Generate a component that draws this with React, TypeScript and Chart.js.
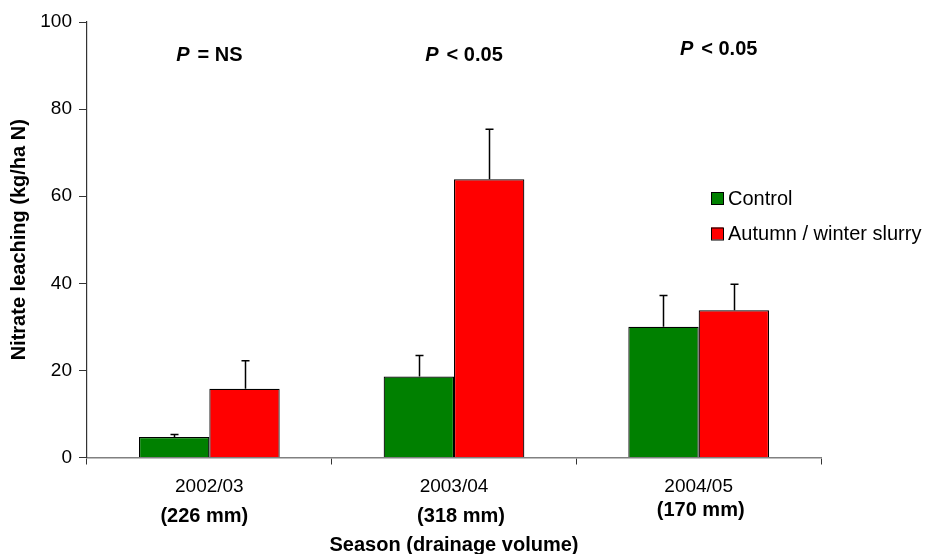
import React, { useEffect, useRef } from "react";
import { Chart, registerables } from "chart.js";

Chart.register(...registerables);

const seasons = ["2002/03", "2003/04", "2004/05"];
const drainage = ["(226 mm)", "(318 mm)", "(170 mm)"];
const significance = ["= NS", "< 0.05", "< 0.05"];
const seriesNames = ["Control", "Autumn / winter slurry"];
const controlValues = [4.7, 18.6, 30.0];
const controlErrors = [0.6, 4.8, 7.2];
const slurryValues = [15.8, 63.9, 33.8];
const slurryErrors = [6.4, 11.5, 6.0];
const yTicks = [0, 20, 40, 60, 80, 100];

const FONT = "'Liberation Sans', Arial, Helvetica, sans-serif";
const GREEN = "#008000";
const RED = "#FF0000";

const errors = [controlErrors, slurryErrors];

const annotations = {
  id: "annotations",
  afterDatasetsDraw(chart: any) {
    const ctx = chart.ctx;
    const ys = chart.scales.y;
    ctx.save();
    ctx.strokeStyle = "#000";
    ctx.lineWidth = 1.5;
    chart.data.datasets.forEach((ds: any, di: number) => {
      const meta = chart.getDatasetMeta(di);
      meta.data.forEach((bar: any, i: number) => {
        const v = ds.data[i];
        const top = ys.getPixelForValue(v + errors[di][i]);
        const x = Math.round(bar.x) + 0.5;
        ctx.beginPath();
        ctx.moveTo(x, bar.y);
        ctx.lineTo(x, top);
        ctx.moveTo(x - 4, top);
        ctx.lineTo(x + 4, top);
        ctx.stroke();
      });
    });
    ctx.restore();
  },
  afterDraw(chart: any) {
    const ctx = chart.ctx;
    const xs = chart.scales.x;
    ctx.save();
    ctx.fillStyle = "#000";
    ctx.textBaseline = "middle";

    // significance labels
    const pDx = [0, 10, 20];
    const pY = [55, 55, 49.5];
    const gap = 8;
    seasons.forEach((_, i) => {
      const cx = xs.getPixelForValue(i) + pDx[i];
      ctx.font = `italic bold 20px ${FONT}`;
      const wP = ctx.measureText("P").width;
      ctx.font = `bold 20px ${FONT}`;
      const rest = significance[i];
      const wR = ctx.measureText(rest).width;
      const x0 = cx - (wP + gap + wR) / 2;
      ctx.textAlign = "left";
      ctx.font = `italic bold 20px ${FONT}`;
      ctx.fillText("P", x0, pY[i]);
      ctx.font = `bold 20px ${FONT}`;
      ctx.fillText(rest, x0 + wP + gap, pY[i]);
    });

    // drainage labels
    const dDx = [-5, 7, 2];
    const dY = [516, 516, 510];
    ctx.textAlign = "center";
    ctx.font = `bold 20px ${FONT}`;
    drainage.forEach((t, i) => {
      ctx.fillText(t, xs.getPixelForValue(i) + dDx[i], dY[i]);
    });

    // legend
    const lx = 711;
    const ly = [198, 233.5];
    const cols = [GREEN, RED];
    ctx.font = `20px ${FONT}`;
    ctx.textAlign = "left";
    seriesNames.forEach((n, i) => {
      ctx.fillStyle = cols[i];
      ctx.fillRect(lx, ly[i] - 6, 12, 12);
      ctx.strokeStyle = "#000";
      ctx.lineWidth = 1;
      ctx.strokeRect(lx + 0.5, ly[i] - 5.5, 12, 12);
      ctx.fillStyle = "#000";
      ctx.fillText(n, lx + 17, ly[i] + 1);
    });
    ctx.restore();
  },
};

export default function App() {
  const ref = useRef<HTMLCanvasElement | null>(null);
  useEffect(() => {
    if (!ref.current) return;
    const chart = new Chart(ref.current, {
      type: "bar",
      data: {
        labels: seasons,
        datasets: [
          {
            label: seriesNames[0],
            data: controlValues,
            backgroundColor: GREEN,
            borderColor: "#000",
            borderWidth: 1.2,
            barPercentage: 1,
            categoryPercentage: 0.575,
          },
          {
            label: seriesNames[1],
            data: slurryValues,
            backgroundColor: RED,
            borderColor: "#000",
            borderWidth: 1.2,
            barPercentage: 1,
            categoryPercentage: 0.575,
          },
        ],
      },
      options: {
        responsive: false,
        animation: false,
        layout: { padding: { top: 22, right: 106, left: 0, bottom: 0 } },
        plugins: { legend: { display: false }, tooltip: { enabled: false } },
        scales: {
          x: {
            grid: {
              display: true,
              drawOnChartArea: false,
              drawTicks: true,
              tickLength: 7,
              tickColor: "#333",
              offset: true,
            },
            border: { display: true, color: "#808080", width: 1.5 },
            ticks: {
              color: "#000",
              font: { family: FONT, size: 19 },
              padding: 11,
              maxRotation: 0,
            },
            title: {
              display: true,
              text: "Season (drainage volume)",
              color: "#000",
              font: { family: FONT, size: 20, weight: "bold", lineHeight: 0.85 },
              padding: { top: 0, bottom: 0 },
            },
            afterFit(scale: any) {
              scale.height = 96.5;
            },
          },
          y: {
            min: 0,
            max: 100,
            afterBuildTicks(scale: any) {
              scale.ticks = yTicks.map((v) => ({ value: v }));
            },
            grid: {
              display: true,
              drawOnChartArea: false,
              drawTicks: true,
              tickLength: 8,
              tickColor: "#333",
            },
            border: { display: true, color: "#333", width: 1.2 },
            ticks: {
              color: "#000",
              font: { family: FONT, size: 19 },
              padding: 7,
            },
            title: {
              display: true,
              text: "Nitrate leaching (kg/ha N)",
              color: "#000",
              font: { family: FONT, size: 20, weight: "bold" },
              padding: { top: 7, bottom: 0 },
            },
            afterFit(scale: any) {
              scale.width = 87;
            },
          },
        },
      },
      plugins: [annotations],
    });
    return () => chart.destroy();
  }, []);
  return (
    <div style={{ position: "absolute", left: 0, top: 0, width: 927, height: 554, background: "#fff" }}>
      <canvas ref={ref} width={927} height={554} />
    </div>
  );
}
